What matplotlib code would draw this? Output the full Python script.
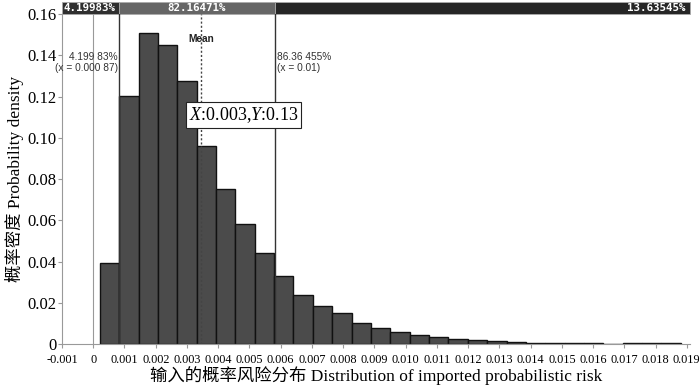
import numpy as np
import matplotlib
matplotlib.use("Agg")
import matplotlib.pyplot as plt
from matplotlib.patches import Rectangle

plt.rcParams["mathtext.fontset"] = "custom"
plt.rcParams["mathtext.rm"] = "Liberation Serif"
plt.rcParams["mathtext.it"] = "Liberation Serif:italic"

# histogram (axis units as labelled)
bin_start = 0.00021
bin_width = 0.00062
density = [0.0393, 0.1203, 0.151, 0.145, 0.1276, 0.0962, 0.0753, 0.058, 0.0441, 0.0329,
           0.0236, 0.0186, 0.0151, 0.0103, 0.0079, 0.0058, 0.0045, 0.0034, 0.0026, 0.0018,
           0.0015, 0.0008, 0.0007, 0.0006, 0.0006, 0.0003, 0.0, 0.0003, 0.0003, 0.0003]

left_delim = 0.00082
right_delim = 0.00582
mean_x = 0.00345
band_pcts = ["4.19983%", "82.16471%", "13.63545%"]
left_label = "4.199 83%\n(x = 0.000 87)"
right_label = "86.36 455%\n(x = 0.01)"
tooltip_xy = (0.0048, 0.111)

xticks = np.round(np.arange(-0.001, 0.0195, 0.001), 3)
xtick_labels = ["0" if t == 0 else f"{t:.3f}" for t in xticks]
yticks = [0, 0.02, 0.04, 0.06, 0.08, 0.10, 0.12, 0.14, 0.16]
ytick_labels = ["0", "0.02", "0.04", "0.06", "0.08", "0.10", "0.12", "0.14", "0.16"]

serif = ["Liberation Serif", "Noto Sans CJK SC", "DejaVu Sans"]
sans = ["Liberation Sans", "DejaVu Sans"]

fig = plt.figure(figsize=(7, 3.85), dpi=100)
ax = fig.add_axes([0.0886, 0.1065, 0.897, 0.8571])

lefts = bin_start + bin_width * np.arange(len(density))
ax.bar(lefts, density, width=bin_width, align="edge", color="#4b4b4b",
       edgecolor="#111111", linewidth=1.0, zorder=2)

ax.set_xlim(-0.001, 0.0191)
ax.set_ylim(0, 0.16)

# marker lines
ax.axvline(0, color="#999999", lw=0.8, zorder=1)
ax.axvline(left_delim, color="#333333", lw=1.0, zorder=3)
ax.axvline(right_delim, color="#333333", lw=1.0, zorder=3)
ax.axvline(mean_x, color="#444444", lw=1.0, ls=(0, (1.5, 1.5)), zorder=3)

ax.text(left_delim - 0.00003, 0.1415, left_label, ha="right", va="top",
        fontsize=7.3, family=sans, color="#333333", linespacing=1.1)
ax.text(right_delim + 0.00005, 0.1415, right_label, ha="left", va="top",
        fontsize=7.3, family=sans, color="#333333", linespacing=1.1)
ax.text(mean_x, 0.148, "Mean", ha="center", va="center", fontsize=7.3,
        family=sans, fontweight="bold", color="#222222")

ax.text(tooltip_xy[0], tooltip_xy[1], r"$\mathit{X}$:0.003,$\mathit{Y}$:0.13",
        ha="center", va="center", fontsize=13, family=serif, zorder=5,
        bbox=dict(boxstyle="square,pad=0.15", fc="white", ec="#222222", lw=0.8))

# percentage band on top
band_edges = [-0.001, left_delim, right_delim, 0.0191]
band_colors = ["#2f2f2f", "#666666", "#262626"]
trans = ax.get_xaxis_transform()
for i in range(3):
    ax.add_patch(Rectangle((band_edges[i], 1.0), band_edges[i + 1] - band_edges[i], 0.037,
                           transform=trans, clip_on=False, facecolor=band_colors[i],
                           edgecolor="#aaaaaa", linewidth=0.6))
band_font = dict(color="white", fontsize=7.8, family="DejaVu Sans Mono", fontweight="bold")
ax.text(band_edges[0] + 0.00006, 1.018, band_pcts[0], transform=trans, ha="left",
        va="center", **band_font)
ax.text((band_edges[1] + band_edges[2]) / 2, 1.018, band_pcts[1], transform=trans,
        ha="center", va="center", **band_font)
ax.text(band_edges[3] - 0.00015, 1.018, band_pcts[2], transform=trans, ha="right",
        va="center", **band_font)

ax.set_xticks(xticks)
ax.set_xticklabels(xtick_labels, family=serif, fontsize=8.8)
ax.set_yticks(yticks)
ax.set_yticklabels(ytick_labels, family=serif, fontsize=12)
ax.tick_params(axis="both", length=3, color="#999999", pad=1)
ax.tick_params(axis="x", pad=4.5)
for side in ["top", "right"]:
    ax.spines[side].set_visible(False)
for side in ["left", "bottom"]:
    ax.spines[side].set_color("#999999")
    ax.spines[side].set_linewidth(0.8)

ax.set_xlabel("输入的概率风险分布 Distribution of imported probabilistic risk",
              family=serif, fontsize=12.5, labelpad=0)
ax.set_ylabel("概率密度 Probability density", family=serif, fontsize=12.5, labelpad=2)

fig.savefig("out.png", dpi=100)
